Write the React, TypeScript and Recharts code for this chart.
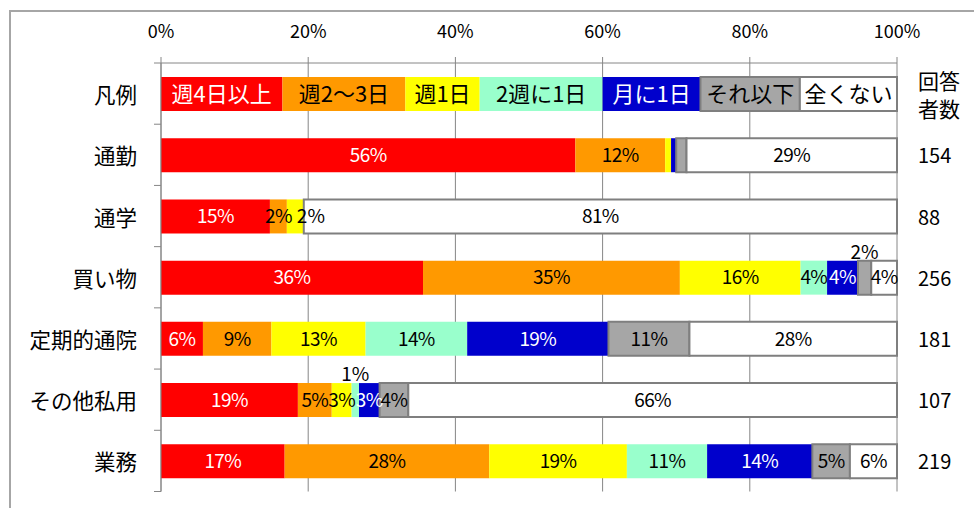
import { BarChart, Bar, XAxis, YAxis, CartesianGrid, LabelList } from 'recharts'

// rows of the chart; the first row is the in-chart legend
const categories = ['凡例', '通勤', '通学', '買い物', '定期的通院', 'その他私用', '業務']
const respondents = ['', '154', '88', '256', '181', '107', '219']
const seriesNames = ['週4日以上', '週2～3日', '週1日', '2週に1日', '月に1日', 'それ以下', '全くない']
const legendWidths = [16.5, 16.7, 10.1, 16.7, 13.3, 13.5, 13.2]

// share (%) per category, in the order of categories minus the legend row
const week4 = [56.3, 14.8, 35.6, 5.7, 18.6, 16.8]
const week2to3 = [12.2, 2.3, 34.9, 9.3, 4.6, 27.8]
const week1 = [0.8, 2.3, 16.4, 12.8, 2.7, 18.7]
const biweekly = [0, 0, 3.6, 13.8, 1.0, 10.9]
const monthly = [0.7, 0, 4.2, 19.2, 2.8, 14.3]
const less = [1.4, 0, 1.8, 11.0, 3.9, 5.1]
const never = [28.6, 80.6, 3.5, 28.2, 66.4, 6.4]
const xTicks = [0, 20, 40, 60, 80, 100]

// labels drawn above the bar instead of inside: [category, series index]
const raisedLabels: [string, number][] = [['買い物', 5], ['その他私用', 3]]
// labels pushed to the right of their segment
const shiftedLabels: [string, number][] = [['通学', 2]]

const fills = ['#ff0000', '#ff9900', '#ffff00', '#99ffcc', '#0000cc', '#a6a6a6', '#ffffff']
const strokes = ['none', 'none', 'none', 'none', 'none', '#7f7f7f', '#7f7f7f']
const labelColors = ['#ffffff', '#000000', '#000000', '#000000', '#ffffff', '#000000', '#000000']

const series = [week4, week2to3, week1, biweekly, monthly, less, never]

const has = (list: [string, number][], name: string, i: number) => list.some(([c, s]) => c === name && s === i)

const rows = categories.map((name, r) => {
    const row: Record<string, string | number> = { name }
    series.forEach((vals, i) => {
        const v = r === 0 ? legendWidths[i] : vals[r - 1]
        const raised = has(raisedLabels, name, i)
        const shifted = has(shiftedLabels, name, i)
        const txt = r === 0 ? '' : `${Math.round(v)}%`
        row[`s${i}`] = v
        row[`lg${i}`] = r === 0 ? seriesNames[i] : ''
        row[`in${i}`] = r > 0 && !raised && !shifted && v >= 1.5 ? txt : ''
        row[`up${i}`] = raised ? txt : ''
        row[`nx${i}`] = shifted ? txt : ''
    })
    return row
})

const MARGIN = { top: 33, right: 77, bottom: 16.5, left: 11 }
const Y_WIDTH = 150
const PLOT_LEFT = MARGIN.left + Y_WIDTH
const PLOT_RIGHT = 974 - MARGIN.right
const BAND = (508 - MARGIN.top - 30 - MARGIN.bottom) / categories.length
const AXIS_GRAY = '#868686'
const VALUE_FONT = 19

const CategoryTick = (props: any) => {
    const { y, payload, index } = props
    const half = payload?.offset ?? BAND / 2
    const last = index === categories.length - 1
    return (
        <g>
            <line x1={PLOT_LEFT - 7} x2={PLOT_LEFT} y1={y - half} y2={y - half} stroke={AXIS_GRAY} />
            {last && <line x1={PLOT_LEFT - 7} x2={PLOT_LEFT} y1={y + half} y2={y + half} stroke={AXIS_GRAY} />}
            <text x={PLOT_LEFT - 24} y={y} textAnchor="end" dominantBaseline="central" fontSize={21.5} fill="#000">
                {payload.value}
            </text>
            {index === 0 ? (
                <text x={PLOT_RIGHT + 21} y={y} fontSize={21} fill="#000">
                    <tspan x={PLOT_RIGHT + 21} y={y - 14} dominantBaseline="central">回答</tspan>
                    <tspan x={PLOT_RIGHT + 21} y={y + 14} dominantBaseline="central">者数</tspan>
                </text>
            ) : (
                <text x={PLOT_RIGHT + 21} y={y} dominantBaseline="central" fontSize={20} fill="#000">
                    {respondents[index]}
                </text>
            )}
        </g>
    )
}

export default function App() {
    return (
        <div
            style={{
                position: 'absolute',
                left: 0,
                top: 0,
                width: 974,
                height: 508,
                overflow: 'hidden',
                background: '#fff',
                fontFamily: '"Noto Sans CJK JP", sans-serif',
            }}
        >
            <div
                style={{
                    position: 'absolute',
                    left: 9,
                    top: 10,
                    width: 1000,
                    height: 600,
                    border: '2px solid #a6a6a6',
                }}
            />
            <BarChart width={974} height={508} layout="vertical" data={rows} margin={MARGIN} barSize={34}>
                <CartesianGrid horizontal={false} stroke={AXIS_GRAY} />
                <XAxis
                    type="number"
                    orientation="top"
                    domain={[0, 100]}
                    ticks={xTicks}
                    height={30}
                    tickFormatter={(v) => `${v}%`}
                    tick={{ fill: '#000', fontSize: 18 }}
                    tickSize={6}
                    tickMargin={19}
                    stroke={AXIS_GRAY}
                />
                <YAxis
                    type="category"
                    dataKey="name"
                    width={Y_WIDTH}
                    interval={0}
                    tickLine={false}
                    axisLine={{ stroke: AXIS_GRAY }}
                    tick={(p: any) => <CategoryTick {...p} />}
                />
                {series.map((_, i) => (
                    <Bar
                        key={i}
                        dataKey={`s${i}`}
                        stackId="a"
                        fill={fills[i]}
                        stroke={strokes[i]}
                        strokeWidth={2}
                        isAnimationActive={false}
                    >
                        <LabelList dataKey={`lg${i}`} position="center" fill={labelColors[i]} fontSize={22} />
                        <LabelList
                            dataKey={`in${i}`}
                            position="center"
                            fill={labelColors[i]}
                            fontSize={VALUE_FONT}
                            letterSpacing={-0.6}
                        />
                        <LabelList dataKey={`up${i}`} position="top" offset={2} fill="#000" fontSize={VALUE_FONT} />
                        <LabelList dataKey={`nx${i}`} position="insideLeft" offset={10} fill="#000" fontSize={VALUE_FONT} />
                    </Bar>
                ))}
            </BarChart>
        </div>
    )
}
